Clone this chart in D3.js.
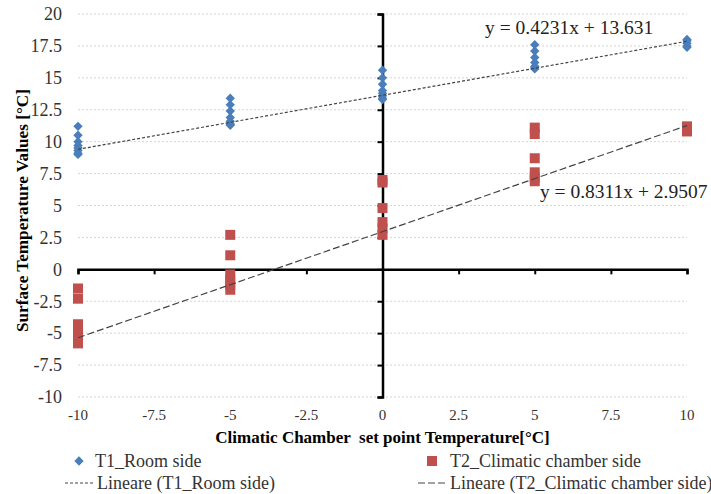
<!DOCTYPE html>
<html lang="en">
<head>
   <meta charset="UTF-8">
   <title>Surface Temperature Values</title>
   <script src="https://cdn.jsdelivr.net/npm/d3@7"></script>
   <style>
      body { margin: 0; background: #fff; }
   </style>
</head>
<body>
   <div class="d3"></div>
   <script>
      // data
      const setPoints = [-10, -5, 0, 5, 10]
      const t1Values = [
         [11.2, 10.5, 10.0, 9.7, 9.5, 9.3, 9.1, 9.0],
         [13.4, 12.9, 12.4, 11.9, 11.6, 11.4, 11.3, 11.3],
         [15.6, 15.0, 14.5, 14.0, 13.8, 13.6, 13.4, 13.3],
         [17.6, 17.1, 16.6, 16.2, 15.9, 15.8, 15.7],
         [18.0, 17.9, 17.7, 17.5, 17.4]
      ]
      const t2Values = [
         [-1.5, -2.3, -4.3, -5.0, -5.4, -5.8],
         [2.7, 1.1, -0.4, -0.8, -1.2, -1.6],
         [7.0, 6.8, 4.8, 3.7, 3.2, 2.7],
         [11.1, 10.6, 8.7, 7.6, 7.2, 6.9],
         [11.2, 10.8]
      ]
      const trend1 = { slope: 0.4231, intercept: 13.631 }
      const trend2 = { slope: 0.8311, intercept: 2.9507 }
      const xTicks = [-10, -7.5, -5, -2.5, 0, 2.5, 5, 7.5, 10]
      const yTicks = [-10, -7.5, -5, -2.5, 0, 2.5, 5, 7.5, 10, 12.5, 15, 17.5, 20]
      const seriesNames = ['T1_Room side', 'T2_Climatic chamber side']
      const trendNames = ['Lineare (T1_Room side)', 'Lineare (T2_Climatic chamber side)']

      const WIDTH = 711
      const HEIGHT = 494
      const BLUE = '#4a7ebb'
      const RED = '#c0504d'
      const TEXT = '#333'
      const FONT = "'Liberation Serif', 'Times New Roman', Times, 'DejaVu Serif', serif"

      const svg = d3.select('.d3').append('svg')
         .attr('width', WIDTH)
         .attr('height', HEIGHT)
         .attr('font-family', FONT)
         .style('font-family', FONT)

      const x = d3.scaleLinear().domain([-10, 10]).range([78, 687])
      const y = d3.scaleLinear().domain([-10, 20]).range([397, 14])

      // gridlines
      svg.append('g')
         .selectAll('line')
         .data(yTicks.filter(d => d !== 0))
         .join('line')
         .attr('x1', x(-10))
         .attr('x2', x(10))
         .attr('y1', d => y(d))
         .attr('y2', d => y(d))
         .attr('stroke', '#d4d4d4')
         .attr('stroke-dasharray', '2,2')

      // y tick labels
      svg.append('g')
         .selectAll('text')
         .data(yTicks)
         .join('text')
         .attr('x', 62)
         .attr('y', d => y(d))
         .attr('dy', '0.35em')
         .attr('text-anchor', 'end')
         .attr('font-size', 18)
         .attr('fill', TEXT)
         .text(d => d)

      // x tick labels
      svg.append('g')
         .selectAll('text')
         .data(xTicks)
         .join('text')
         .attr('x', d => x(d))
         .attr('y', 420)
         .attr('text-anchor', 'middle')
         .attr('font-size', 15)
         .attr('fill', TEXT)
         .text(d => d)

      // axes through the origin
      const xAxis = svg.append('g')
         .attr('transform', `translate(0, ${y(0)})`)
         .call(d3.axisBottom(x).tickValues(xTicks).tickSize(5).tickFormat(''))
      const yAxis = svg.append('g')
         .attr('transform', `translate(${x(0)}, 0)`)
         .call(d3.axisLeft(y).tickValues(yTicks).tickSize(5).tickFormat(''))
      for (const ax of [xAxis, yAxis]) {
         ax.select('.domain').attr('stroke', '#000').attr('stroke-width', 2.5)
         ax.selectAll('.tick line').attr('stroke', '#000').attr('stroke-width', 2)
      }

      // markers
      const flat = (vals) => vals.flatMap((col, i) => col.map(v => ({ x: setPoints[i], y: v })))

      svg.append('g')
         .selectAll('rect')
         .data(flat(t2Values))
         .join('rect')
         .attr('x', d => x(d.x) - 5)
         .attr('y', d => y(d.y) - 5)
         .attr('width', 10)
         .attr('height', 10)
         .attr('fill', RED)

      const diamond = d3.symbol().type(d3.symbolDiamond2).size(56)
      svg.append('g')
         .selectAll('path')
         .data(flat(t1Values))
         .join('path')
         .attr('transform', d => `translate(${x(d.x)}, ${y(d.y)})`)
         .attr('d', diamond)
         .attr('fill', BLUE)

      // trendlines
      const trendLine = (t) => [-10, 10].map(v => [x(v), y(t.slope * v + t.intercept)])
      svg.append('path')
         .attr('d', d3.line()(trendLine(trend1)))
         .attr('stroke', '#444')
         .attr('stroke-width', 1.2)
         .attr('stroke-dasharray', '3,2')
         .attr('fill', 'none')
      svg.append('path')
         .attr('d', d3.line()(trendLine(trend2)))
         .attr('stroke', '#444')
         .attr('stroke-width', 1.2)
         .attr('stroke-dasharray', '7,3')
         .attr('fill', 'none')

      // equations
      svg.append('text')
         .attr('x', x(3.37))
         .attr('y', y(18.43))
         .attr('font-size', 19.5)
         .attr('fill', '#222')
         .text(`y = ${trend1.slope}x + ${trend1.intercept}`)
      svg.append('text')
         .attr('x', x(5.17))
         .attr('y', y(5.6))
         .attr('font-size', 19.5)
         .attr('fill', '#222')
         .text(`y = ${trend2.slope}x + ${trend2.intercept}`)

      // axis titles
      svg.append('text')
         .attr('transform', `translate(22, ${y(4.6)}) rotate(-90)`)
         .attr('text-anchor', 'middle')
         .attr('dy', '0.35em')
         .attr('font-size', 16)
         .attr('font-weight', 'bold')
         .attr('fill', '#000')
         .attr('textLength', 243)
         .attr('lengthAdjust', 'spacingAndGlyphs')
         .text('Surface Temperature Values [°C]')
      svg.append('text')
         .attr('x', x(0))
         .attr('y', 443)
         .attr('text-anchor', 'middle')
         .attr('font-size', 17)
         .attr('font-weight', 'bold')
         .attr('fill', '#000')
         .style('white-space', 'pre')
         .text('Climatic Chamber  set point Temperature[°C]')

      // legend
      const legend = svg.append('g').attr('font-size', 18).attr('fill', TEXT)
      legend.append('path')
         .attr('transform', 'translate(79, 461)')
         .attr('d', diamond)
         .attr('fill', BLUE)
      legend.append('text').attr('x', 95).attr('y', 467).text(seriesNames[0])
      legend.append('rect')
         .attr('x', 427).attr('y', 456).attr('width', 10).attr('height', 10)
         .attr('fill', RED)
      legend.append('text').attr('x', 450).attr('y', 467).text(seriesNames[1])

      legend.append('line')
         .attr('x1', 65).attr('x2', 94).attr('y1', 483).attr('y2', 483)
         .attr('stroke', '#444').attr('stroke-dasharray', '3,2')
      legend.append('text').attr('x', 97).attr('y', 489).text(trendNames[0])
      legend.append('line')
         .attr('x1', 418).attr('x2', 448).attr('y1', 483).attr('y2', 483)
         .attr('stroke', '#444').attr('stroke-dasharray', '7,3')
      legend.append('text').attr('x', 450).attr('y', 489).text(trendNames[1])
   </script>
</body>
</html>
